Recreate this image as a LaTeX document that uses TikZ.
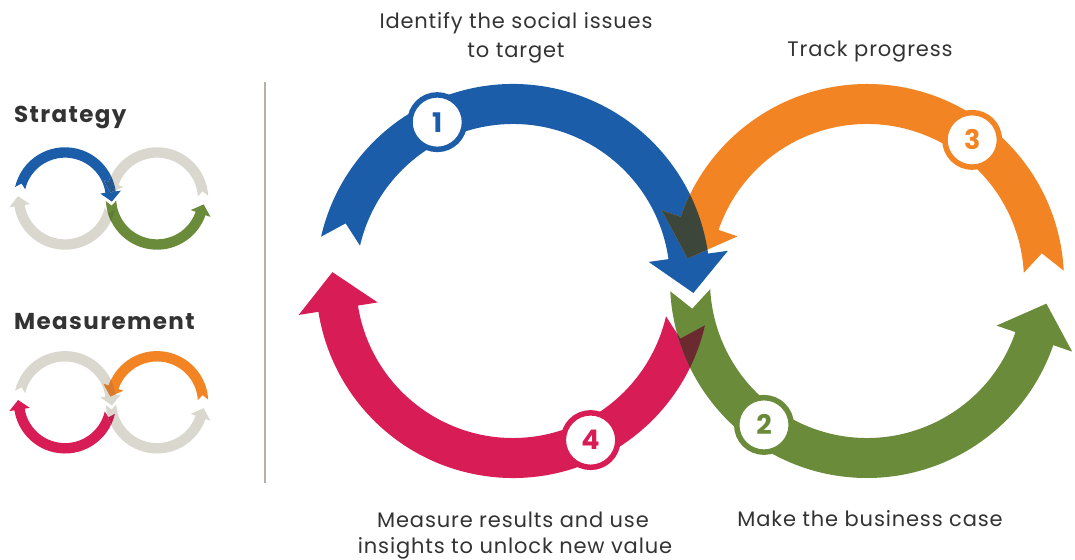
\documentclass[tikz,border=0pt]{standalone}
\usepackage{fontspec}
\setmainfont{Poppins}
\definecolor{cblue}{HTML}{1B5DA8}
\definecolor{corange}{HTML}{F28423}
\definecolor{cgreen}{HTML}{6A8B3A}
\definecolor{cred}{HTML}{D81C56}
\definecolor{cdarkA}{HTML}{3C463B}
\definecolor{cdarkB}{HTML}{6B2A2F}
\definecolor{cgrey}{HTML}{D9D7CE}
\definecolor{cblueg}{HTML}{24578F}
\definecolor{cgreeng}{HTML}{5F7C37}
\definecolor{corangeg}{HTML}{D97A2C}
\definecolor{credg}{HTML}{C01C50}
\definecolor{ctext}{HTML}{333333}
\definecolor{csep}{HTML}{B5B1AA}
\newcommand\pathblue{(161:177) -- (167:197) arc[start angle=167,end angle=8,radius=197] -- (8:217) -- (-3.8:180.8) -- (8:137) -- (8:157) arc[start angle=8,end angle=167,radius=157] -- cycle}
\newcommand\pathred{(-19:177) -- (-13:197) arc[start angle=-13,end angle=-171,radius=197] -- (-171:217) -- (-182.8:180.8) -- (-171:137) -- (-171:157) arc[start angle=-171,end angle=-13,radius=157] -- cycle}
\newcommand\pathgreen{(189:177) -- (183:197) arc[start angle=183,end angle=341,radius=197] -- (341:217) -- (352.8:180.8) -- (341:137) -- (341:157) arc[start angle=341,end angle=183,radius=157] -- cycle}
\newcommand\pathorange{(9:177) -- (3:197) arc[start angle=3,end angle=161,radius=197] -- (161:217) -- (172.8:180.8) -- (161:137) -- (161:157) arc[start angle=161,end angle=3,radius=157] -- cycle}
\newcommand\infig[6]{%
  \fill[#1] \pathblue;
  \fill[#4] \pathred;
  \begin{scope}[shift={(354,0)}]
    \fill[#2] \pathgreen;
    \fill[#3] \pathorange;
  \end{scope}
  \begin{scope}
    \clip \pathblue;
    \begin{scope}[shift={(354,0)}]\fill[#5] \pathorange;\end{scope}
  \end{scope}
  \begin{scope}[shift={(354,0)}]
    \clip \pathgreen;
    \begin{scope}[shift={(-354,0)}]\fill[#6] \pathred;\end{scope}
  \end{scope}
}
\tikzset{
  badge/.style={circle, fill=white, draw=#1, line width=5.5pt, minimum size=54.5pt,
    inner sep=0pt, text=#1, font=\bfseries\fontsize{27}{27}\selectfont},
  lbl/.style={inner sep=0pt, text=ctext, font=\fontsize{21}{24}\selectfont\addfontfeature{LetterSpace=4}},
  leg/.style={inner sep=0pt, text=ctext, font=\bfseries\fontsize{23}{26}\selectfont\addfontfeature{LetterSpace=6}},
  sepline/.style={draw=csep, line width=2pt}
}
\begin{document}
\begin{tikzpicture}[x=1pt,y=1pt]
\useasboundingbox (0,0) rectangle (1075,559);
% separator
\draw[sepline] (265,477) -- (265,76);
% legend
\node[leg, anchor=base west] (strat) at (14,436.7) {Strategy};
\node[leg, anchor=base west] (meas) at (14,229.7) {Measurement};
\begin{scope}[shift={(65,360.5)}, scale=0.26]
  \infig{cblue}{cgreen}{cgrey}{cgrey}{cblueg}{cgreeng}
\end{scope}
\begin{scope}[shift={(65,156.7)}, scale=0.26]
  \infig{cgrey}{cgrey}{corange}{cred}{corangeg}{credg}
\end{scope}
% main figure
\begin{scope}[shift={(513,278)}]
  \infig{cblue}{cgreen}{corange}{cred}{cdarkA}{cdarkB}
  \node[badge=cblue] (n1) at (115.5:176) {1};
  \node[badge=cred] (n4) at (-64:177) {4};
  \begin{scope}[shift={(354,0)}]
    \node[badge=corange] (n3) at (53.3:176) {3};
    \node[badge=cgreen] (n2) at (-125.6:177) {2};
  \end{scope}
\end{scope}
% labels
\node[lbl, anchor=base] (t1a) at (516,530.7) {Identify the social issues};
\node[lbl, anchor=base] (t1b) at (516,501.3) {to target};
\node[lbl, anchor=base] (t3) at (870,502.3) {Track progress};
\node[lbl, anchor=base] (t4a) at (513,31) {Measure results and use};
\node[lbl, anchor=base] (t4b) at (515,5.5) {insights to unlock new value};
\node[lbl, anchor=base] (t2) at (870,32) {Make the business case};
\end{tikzpicture}
\end{document}
